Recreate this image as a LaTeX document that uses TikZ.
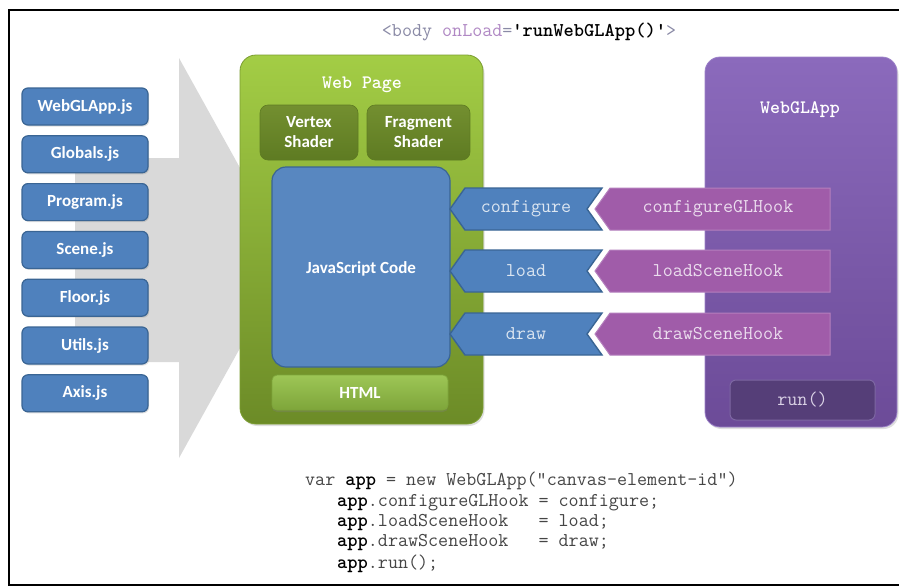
\documentclass[tikz,border=0pt]{standalone}
\usepackage{fontspec}
\setmainfont{Carlito}
\usetikzlibrary{shadows}
\definecolor{fileblue}{HTML}{4F81BD}
\definecolor{fileborder}{HTML}{3A6594}
\definecolor{arrowgray}{HTML}{D9D9D9}
\definecolor{greentop}{HTML}{A3CD45}
\definecolor{greenbot}{HTML}{6C8B27}
\definecolor{greenedge}{HTML}{7C9E31}
\definecolor{shadertop}{HTML}{738F30}
\definecolor{shaderbot}{HTML}{5E7B22}
\definecolor{htmltop}{HTML}{9DC656}
\definecolor{htmlbot}{HTML}{7EA53A}
\definecolor{purptop}{HTML}{8B6ABC}
\definecolor{purpbot}{HTML}{6C4B98}
\definecolor{purpedge}{HTML}{9C82C8}
\definecolor{hookfill}{HTML}{A05CA9}
\definecolor{hookedge}{HTML}{B47FBD}
\definecolor{hooktext}{HTML}{EBDDEE}
\definecolor{bluetext}{HTML}{DCE6F1}
\definecolor{runfill}{HTML}{553E78}
\definecolor{runedge}{HTML}{7D67A2}
\definecolor{runtext}{HTML}{DAD2E6}
\definecolor{tagc}{HTML}{8A8AA6}
\definecolor{attc}{HTML}{B088C4}
\definecolor{codec}{HTML}{454545}
\begin{document}
\begin{tikzpicture}[x=1pt,y=-1pt,
  filebox/.style={draw=fileborder, line width=1.2pt, fill=fileblue, rounded corners=6pt,
    minimum width=126pt, minimum height=37pt, inner sep=0pt, text=white,
    font=\fontsize{17}{19}\selectfont\bfseries,
    drop shadow={opacity=0.25,shadow xshift=1.2pt,shadow yshift=-1.5pt}},
  ttitle/.style={text=white, font=\fontsize{19}{21}\selectfont\ttfamily\bfseries},
  shaderbox/.style={draw=shaderbot, line width=0.6pt, top color=shadertop, bottom color=shaderbot,
    rounded corners=8pt, minimum width=98pt, minimum height=55pt, inner sep=0pt,
    text=white, align=center, font=\fontsize{17}{20}\selectfont\bfseries},
  bluearrow/.style={draw=fileborder, line width=1.4pt, fill=fileblue, line join=miter},
  hookarrow/.style={draw=hookedge, line width=1pt, fill=hookfill},
  arrowtext/.style={font=\fontsize{19.5}{22}\selectfont\ttfamily, inner sep=0pt},
  codeline/.style={anchor=base west, inner sep=0pt, text=codec, font=\fontsize{19.5}{22}\selectfont\ttfamily}
]
\useasboundingbox (0,0) rectangle (899,587);
\fill[white] (0,0) rectangle (899,587);

% big gray arrow
\fill[arrowgray] (75,158) -- (179,158) -- (179,58) -- (290,258) -- (179,458) -- (179,362) -- (75,362) -- cycle;

% file boxes
\foreach \n/\t [count=\i from 0] in {f1/WebGLApp.js, f2/Globals.js, f3/Program.js, f4/Scene.js, f5/Floor.js, f6/Utils.js, f7/Axis.js}
  \node[filebox] (\n) at (85,106.5+47.8*\i) {\t};

% web page box
\node[draw=greenedge, line width=0.8pt, top color=greentop, bottom color=greenbot, rounded corners=16pt,
  minimum width=243pt, minimum height=369pt, inner sep=0pt,
  drop shadow={opacity=0.25,shadow xshift=1.5pt,shadow yshift=-2pt}] (web) at (361.5,239.5) {};
\node[ttitle] (webt) at (362,85) {Web Page};
\node[shaderbox] (vs) at (309,132.5) {Vertex\\Shader};
\node[shaderbox, minimum width=103pt] (fs) at (418.5,132.5) {Fragment\\Shader};
\node[draw=fileborder, line width=1.2pt, fill=fileblue!95!white, rounded corners=14pt,
  minimum width=178pt, minimum height=200pt, inner sep=0pt] (js) at (361,267) {};
\node[text=white, font=\fontsize{17}{19}\selectfont\bfseries] (jst) at (361,269) {JavaScript Code};
\node[draw=htmlbot, line width=0.8pt, top color=htmltop, bottom color=htmlbot, rounded corners=5pt,
  minimum width=176pt, minimum height=35pt, inner sep=0pt, text=white,
  font=\fontsize{17}{19}\selectfont\bfseries,
  drop shadow={opacity=0.3,shadow xshift=0pt,shadow yshift=-2pt}] (html) at (360,392.5) {HTML};

% WebGLApp box
\node[draw=purpedge, line width=0.8pt, top color=purptop, bottom color=purpbot, rounded corners=15pt,
  minimum width=192pt, minimum height=370pt, inner sep=0pt,
  drop shadow={opacity=0.25,shadow xshift=1.5pt,shadow yshift=-2pt}] (app) at (801,242) {};
\node[ttitle] (appt) at (800,110) {WebGLApp};
\node[draw=runedge, line width=1pt, fill=runfill, rounded corners=6pt,
  minimum width=145pt, minimum height=40pt, inner sep=0pt, text=runtext,
  font=\fontsize{19.5}{22}\selectfont\ttfamily] (run) at (802.5,400) {run()};

% arrows
\foreach \n/\y/\t/\h in {cfg/209/configure/configureGLHook, ld/271/load/loadSceneHook, dr/334/draw/drawSceneHook}{
  \draw[bluearrow] (450,\y) -- (465,\y-21) -- (602,\y-21) -- (587,\y) -- (602,\y+21) -- (465,\y+21) -- cycle;
  \node[arrowtext, text=bluetext] (\n) at (526,\y) {\t};
  \draw[hookarrow] (595,\y) -- (610,\y-21) -- (830,\y-21) -- (830,\y+21) -- (610,\y+21) -- cycle;
  \node[arrowtext, text=hooktext] (\n h) at (718,\y) {\h};
}

% top text
\node[font=\fontsize{19.5}{22}\selectfont\ttfamily, inner sep=0pt] (onload) at (529,32)
  {\textcolor{tagc}{<body} \textcolor{attc}{onLoad}\textcolor{tagc}{=}{\bfseries\color{black}'runWebGLApp()'}\textcolor{tagc}{>}};

% code
\node[codeline] (c1) at (305,485) {var {\bfseries\color{black}app} = new WebGLApp("canvas-element-id")};
\node[codeline] (c2) at (337,506) {{\bfseries\color{black}app}.configureGLHook = configure;};
\node[codeline] (c3) at (337,526) {{\bfseries\color{black}app}.loadSceneHook~~~= load;};
\node[codeline] (c4) at (337,546) {{\bfseries\color{black}app}.drawSceneHook~~~= draw;};
\node[codeline] (c5) at (337,568) {{\bfseries\color{black}app}.run();};

% frame
\draw[line width=1.6pt] (899,10) -- (9,10) -- (9,585) -- (899,585);
\end{tikzpicture}
\end{document}
